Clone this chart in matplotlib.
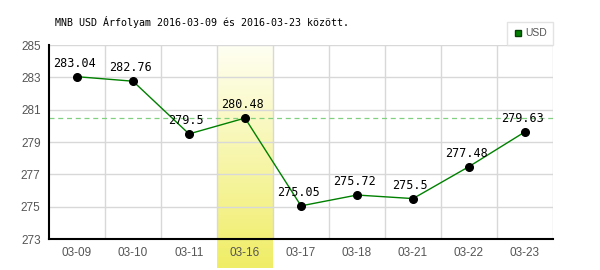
import matplotlib
matplotlib.use('Agg')
import matplotlib.pyplot as plt
import matplotlib.transforms as mtransforms
from matplotlib.lines import Line2D
import numpy as np

napok = ['03-09', '03-10', '03-11', '03-16', '03-17', '03-18', '03-21', '03-22', '03-23']
arfolyam = [283.04, 282.76, 279.5, 280.48, 275.05, 275.72, 275.5, 277.48, 279.63]
cimkek = ['283.04', '282.76', '279.5', '280.48', '275.05', '275.72', '275.5', '277.48', '279.63']
kiemelt = 3  # 03-16 oszlop
y_ticks = [273, 275, 277, 279, 281, 283, 285]

W, H = 600, 270
fig = plt.figure(figsize=(W / 100, H / 100), dpi=100)
ax = fig.add_axes([49 / W, 1 - 239 / H, 504 / W, 194 / H])

x = np.arange(len(napok))

# sárga kiemelés (színátmenet), a tengely alá is kilóg
grad = np.linspace(0, 1, 100).reshape(-1, 1)
top_c = np.array([1.0, 1.0, 0.95])
bot_c = np.array([0.94, 0.93, 0.40])
img = top_c + (bot_c - top_c) * grad[..., None]
img = img.reshape(100, 1, 3)
blend = mtransforms.blended_transform_factory(ax.transData, ax.transAxes)
ax.imshow(img, extent=[kiemelt - 0.5, kiemelt + 0.5, -29 / 194, 1], origin='upper',
          transform=blend, aspect='auto', clip_on=False, zorder=0)

# rács
for xv in np.arange(0.5, len(napok) - 0.5, 1):
    ax.axvline(xv, color='#d8d8d8', lw=1, zorder=1)
ax.axvline(len(napok) - 0.5, color='#d8d8d8', lw=1, zorder=1)
for yv in y_ticks[1:]:
    ax.axhline(yv, color='#d8d8d8', lw=1, zorder=1)

ax.axhline(arfolyam[kiemelt], color='#80d080', lw=0.9, ls=(0, (4, 3)), zorder=2)

ax.plot(x, arfolyam, color='#008000', lw=1, zorder=3)
ax.plot(x, arfolyam, 'o', color='black', ms=5.5, zorder=4)
for xi, yi, c in zip(x, arfolyam, cimkek):
    ax.annotate(c, (xi, yi), xytext=(-2, 5), textcoords='offset points', ha='center',
                va='bottom', fontsize=8.5, family='DejaVu Sans Mono', color='black', zorder=5)

ax.set_xlim(-0.5, len(napok) - 0.5)
ax.set_ylim(273, 285)
ax.set_yticks(y_ticks)
ax.set_xticks(x)
ax.set_xticklabels(napok)
ax.tick_params(length=0, labelsize=8.5, colors='#555555', pad=6)
for t in ax.get_xticklabels() + ax.get_yticklabels():
    t.set_family('Liberation Sans')
ax.spines['top'].set_visible(False)
ax.spines['right'].set_visible(False)
ax.spines['left'].set_color('black')
ax.spines['bottom'].set_color('black')
ax.spines['left'].set_linewidth(1.5)
ax.spines['bottom'].set_linewidth(1.5)
ax.set_facecolor('white')

fig.text(55 / W, 1 - 22 / H, 'MNB USD Árfolyam 2016-03-09 és 2016-03-23 között.',
         family='DejaVu Sans Mono', fontsize=7.2, va='center', ha='left')

leg = fig.legend([Line2D([], [], marker='s', ls='', color='#008000', markeredgecolor='#004000', ms=5)],
                 ['USD'], loc='upper right', bbox_to_anchor=(553 / W, 1 - 22 / H),
                 borderaxespad=0, frameon=True, fontsize=7, handlelength=0.8,
                 handletextpad=0.3, borderpad=0.6, fancybox=False, edgecolor='#dddddd',
                 prop={'family': 'Liberation Sans', 'size': 7.5})
for t in leg.get_texts():
    t.set_color('#555555')

fig.savefig('out.png', dpi=100)
